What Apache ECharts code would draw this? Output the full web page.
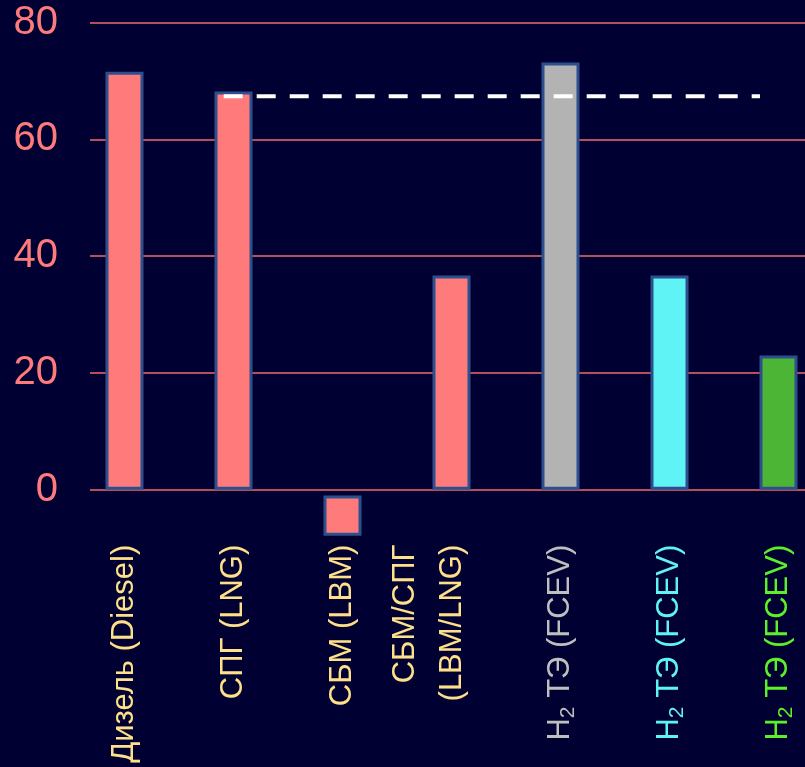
<!DOCTYPE html>
<html>
<head>
<meta charset="utf-8">
<script src="https://cdn.jsdelivr.net/npm/echarts@6/dist/echarts.min.js"></script>
<style>
  html, body { margin: 0; padding: 0; background: #000033; }
  #main { width: 805px; height: 767px; }
</style>
</head>
<body>
<div id="main"></div>
<script>
// данные
var categories = ['Дизель (Diesel)', 'СПГ (LNG)', 'СБМ (LBM)', 'СБМ/СПГ\n(LBM/LNG)', 'H2 ТЭ (FCEV)', 'H2 ТЭ (FCEV)', 'H2 ТЭ (FCEV)'];
var barValues = [71.6, 68.2, -6.9, 36.7, 73.2, 36.7, 23.0];
var barOffsets = [0, 0, -1.0, 0, 0, 0, 0];   // СБМ висит чуть ниже нуля
var refLine = [[0.91, 67.4], [5.83, 67.4]];  // пунктир
var yTicks = [0, 20, 40, 60, 80];

var barColors = ['#ff7b7b', '#ff7b7b', '#ff7b7b', '#ff7b7b', '#b3b3b3', '#5ff3f5', '#4cb535'];
var labelColors = ['yellow', 'yellow', 'yellow', 'yellow', 'grey', 'cyan', 'green'];
var textColors = { yellow: '#ffe08a', grey: '#bfbfbf', cyan: '#5ff3f5', green: '#5cf02a' };
var fontName = "'Liberation Sans', Arial, sans-serif";

var rich = {
    wide: { color: textColors.yellow, fontSize: 31, fontFamily: fontName, lineHeight: 47 },
    sp: { fontSize: 10, lineHeight: 46 }
};
Object.keys(textColors).forEach(function (k) {
    rich[k] = { color: textColors[k], fontSize: 31, fontFamily: fontName, lineHeight: 36 };
    rich[k + 'Sub'] = { color: textColors[k], fontSize: 21, fontFamily: fontName, lineHeight: 16, verticalAlign: 'bottom' };
});

var myChart = echarts.init(document.getElementById('main'));
var option = {
    backgroundColor: '#000033',
    animation: false,
    grid: [
        { left: 70, right: -28, top: 22.7, bottom: 277.3, outerBoundsMode: 'none' },  // столбики
        { left: 90, right: 0, top: 22.7, bottom: 277.3, outerBoundsMode: 'none' }     // сетка и подписи оси Y
    ],
    xAxis: [
        {
            type: 'category',
            gridIndex: 0,
            data: categories,
            axisLine: { show: false },
            axisTick: { show: false },
            axisLabel: {
                rotate: 90,
                margin: 55,
                interval: 0,
                formatter: function (value, index) {
                    var c = labelColors[index];
                    if (value.indexOf('H2') === 0) {
                        return '{' + c + '|H}{' + c + 'Sub|2}{' + c + '|' + value.slice(2) + '}';
                    }
                    if (value.indexOf('\n') >= 0) {
                        // двухстрочная подпись сдвинута левее центра
                        return value.split('\n').map(function (s) { return '{wide|' + s + '}'; }).join('\n') + '\n{sp| }';
                    }
                    return '{' + c + '|' + value + '}';
                },
                rich: rich
            }
        },
        { type: 'value', gridIndex: 0, min: -0.5, max: 6.5, show: false },
        { type: 'value', gridIndex: 1, show: false, min: 0, max: 1 }
    ],
    yAxis: [
        { type: 'value', gridIndex: 0, min: 0, max: 80, interval: 20, show: false },
        {
            type: 'value',
            gridIndex: 1,
            min: 0,
            max: 80,
            interval: 20,
            axisLine: { show: false },
            axisTick: { show: false },
            splitLine: { show: true, lineStyle: { color: '#f06a6a', width: 1.5 } },
            axisLabel: {
                margin: 32,
                color: '#ff7b7b',
                fontSize: 40,
                fontFamily: fontName,
                formatter: function (v) { return yTicks.indexOf(v) >= 0 ? String(v) : ''; }
            }
        }
    ],
    series: [
        {
            name: 'base',
            type: 'bar',
            xAxisIndex: 0,
            yAxisIndex: 0,
            stack: 'a',
            clip: false,
            barWidth: 38,
            data: barOffsets,
            itemStyle: { color: 'transparent' },
            silent: true
        },
        {
            name: 'value',
            type: 'bar',
            xAxisIndex: 0,
            yAxisIndex: 0,
            stack: 'a',
            clip: false,
            barWidth: 38,
            z: 3,
            data: barValues.map(function (v, i) {
                return { value: v, itemStyle: { color: barColors[i] } };
            }),
            itemStyle: { borderColor: '#2e4f8e', borderWidth: 3 }
        },
        {
            name: 'ref',
            type: 'line',
            xAxisIndex: 1,
            yAxisIndex: 0,
            z: 5,
            symbol: 'none',
            data: refLine,
            lineStyle: { color: '#ffffff', width: 4, type: [19, 14] }
        },
        {
            type: 'line',
            xAxisIndex: 2,
            yAxisIndex: 1,
            data: [],
            silent: true
        }
    ]
};
myChart.setOption(option);
</script>
</body>
</html>
